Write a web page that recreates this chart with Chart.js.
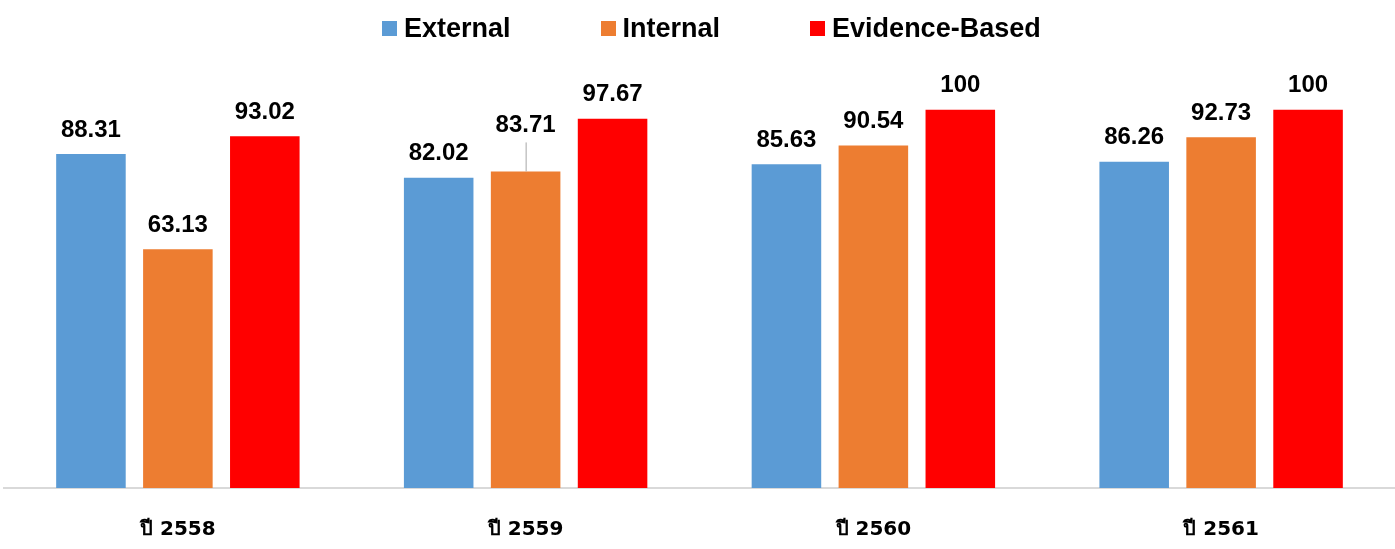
<!DOCTYPE html>
<html>
<head>
<meta charset="utf-8">
<script src="https://cdn.jsdelivr.net/npm/chart.js@4.4.1/dist/chart.umd.min.js"></script>
<style>
    body { margin: 0; background: #fff; }
    #wrap { position: relative; width: 1395px; height: 549px; }
    #legend {
        position: absolute; left: 382px; top: 15px;
        display: flex; align-items: center;
        font: bold 27px "Liberation Sans", Arial, sans-serif; line-height: 27px; color: #000;
    }
    .item { display: flex; align-items: center; margin-right: 90px; }
    .item:last-child { margin-right: 0; }
    .box { width: 15px; height: 15px; margin-right: 7px; }
</style>
</head>
<body>
<div id="wrap">
    <canvas id="barChart"></canvas>
    <div id="legend"></div>
</div>
<script>
const categories = ['ปี 2558', 'ปี 2559', 'ปี 2560', 'ปี 2561'];
const seriesNames = ['External', 'Internal', 'Evidence-Based'];
const externalValues = [88.31, 82.02, 85.63, 86.26];
const internalValues = [63.13, 83.71, 90.54, 92.73];
const evidenceValues = [93.02, 97.67, 100, 100];
const seriesColors = ['#5B9BD5', '#ED7D31', '#FF0000'];

document.addEventListener('DOMContentLoaded', function() {
    // html legend
    const legend = document.getElementById('legend');
    seriesNames.forEach((name, i) => {
        const item = document.createElement('div');
        item.className = 'item';
        item.innerHTML = '<span class="box" style="background:' + seriesColors[i] + '"></span><span>' + name + '</span>';
        legend.appendChild(item);
    });

    // labels above bars; the Internal 2559 one sits higher with a leader line
    const raisedLabels = { '1-1': 46 };
    const valueLabels = {
        id: 'valueLabels',
        afterDatasetsDraw(chart) {
            const ctx = chart.ctx;
            ctx.save();
            ctx.font = 'bold 24px "Liberation Sans", Arial, sans-serif';
            ctx.fillStyle = '#000';
            ctx.textAlign = 'center';
            ctx.textBaseline = 'middle';
            chart.data.datasets.forEach((ds, di) => {
                chart.getDatasetMeta(di).data.forEach((bar, i) => {
                    const lift = raisedLabels[di + '-' + i];
                    if (lift) {
                        ctx.strokeStyle = '#a6a6a6';
                        ctx.lineWidth = 1;
                        ctx.beginPath();
                        ctx.moveTo(bar.x + 0.5, bar.y - lift + 17);
                        ctx.lineTo(bar.x + 0.5, bar.y);
                        ctx.stroke();
                        ctx.fillText(ds.data[i], bar.x, bar.y - lift);
                    } else {
                        ctx.fillText(ds.data[i], bar.x, bar.y - 24);
                    }
                });
            });
            ctx.restore();
        }
    };

    const ctx = document.getElementById('barChart').getContext('2d');
    new Chart(ctx, {
        type: 'bar',
        data: {
            labels: categories,
            datasets: [
                { label: seriesNames[0], data: externalValues, backgroundColor: seriesColors[0] },
                { label: seriesNames[1], data: internalValues, backgroundColor: seriesColors[1] },
                { label: seriesNames[2], data: evidenceValues, backgroundColor: seriesColors[2] }
            ]
        },
        options: {
            responsive: true,
            maintainAspectRatio: false,
            animation: false,
            categoryPercentage: 0.75,
            barPercentage: 0.8,
            layout: { padding: { top: 72, left: 4, right: 0, bottom: 10 } },
            scales: {
                y: {
                    display: false,
                    min: 0,
                    max: 110
                },
                x: {
                    grid: { display: false, drawTicks: false },
                    border: { display: true, color: '#d9d9d9', width: 2 },
                    afterFit: (scale) => { scale.height = 51; },
                    ticks: {
                        padding: 30,
                        color: '#000',
                        font: { family: 'DejaVu Sans', weight: 'bold', size: 20 }
                    }
                }
            },
            plugins: {
                legend: { display: false },
                tooltip: { enabled: false }
            }
        },
        plugins: [valueLabels]
    });
});
</script>
</body>
</html>
